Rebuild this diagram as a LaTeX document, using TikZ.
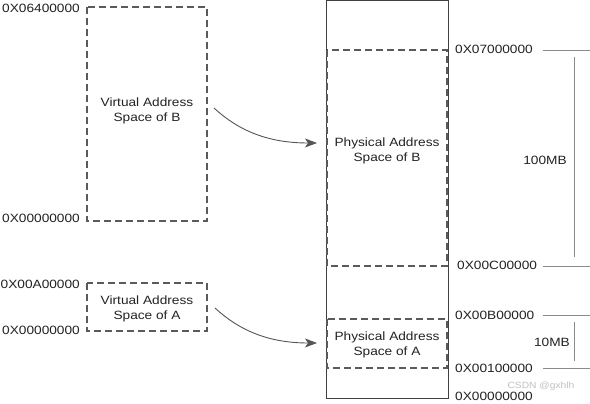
\documentclass[tikz,border=0pt]{standalone}
\usepackage{fontspec}
\setmainfont{Liberation Sans}[FakeStretch=1.14]
\usetikzlibrary{arrows.meta}
\definecolor{dashgray}{HTML}{5A5A5A}
\definecolor{boxgray}{HTML}{404040}
\definecolor{tickgray}{HTML}{8A8A8A}
\definecolor{txtgray}{HTML}{222222}
\definecolor{arrgray}{HTML}{555555}
\tikzset{
  dashbox/.style={draw=dashgray, line width=1.9pt, dash pattern=on 7pt off 4pt},
  membox/.style={draw=boxgray, line width=0.9pt},
  tickline/.style={draw=tickgray, line width=0.8pt},
  lbl/.style={text=txtgray, inner sep=0pt, font=\fontsize{12}{15.5}\selectfont},
  mid/.style={lbl, align=center},
  maparrow/.style={draw=arrgray, line width=0.9pt, -{Stealth[length=12pt,width=9pt,inset=3pt]}},
  wmark/.style={text=black!25, inner sep=0pt, font=\fontsize{9}{10}\selectfont}
}
\begin{document}
\begin{tikzpicture}[x=1pt,y=-1pt]
\useasboundingbox (0,0) rectangle (590,404);
% virtual B
\draw[dashbox] (87,7) rectangle (207,221);
\node[mid] (vb) at (147,111) {Virtual Address\\Space of B};
\node[lbl, anchor=east] (vbt) at (80,8) {0X06400000};
\node[lbl, anchor=east] (vbb) at (80,218) {0X00000000};
% virtual A
\draw[dashbox] (87,283) rectangle (207,331);
\node[mid] (va) at (147,309) {Virtual Address\\Space of A};
\node[lbl, anchor=east] (vat) at (80,284) {0X00A00000};
\node[lbl, anchor=east] (vab) at (80,330) {0X00000000};
% physical memory
\draw[membox] (326,0.5) rectangle (448,398);
\draw[dashbox] (327,50) rectangle (447,266);
\node[mid] (pb) at (387,151) {Physical Address\\Space of B};
\draw[dashbox] (327,319) rectangle (447,368);
\node[mid] (pa) at (387,345) {Physical Address\\Space of A};
% right labels
\node[lbl, anchor=west] (p1) at (455,49) {0X07000000};
\node[lbl, anchor=west] (p2) at (457,265) {0X00C00000};
\node[lbl, anchor=west] (p3) at (455,315) {0X00B00000};
\node[lbl, anchor=west] (p4) at (455,368) {0X00100000};
\node[lbl, anchor=west] (p5) at (455,396) {0X00000000};
% size ticks
\coordinate (t1a) at (543,50); \coordinate (t1b) at (590,50);
\coordinate (t2a) at (543,266); \coordinate (t2b) at (590,266);
\coordinate (t3a) at (543,315); \coordinate (t3b) at (590,315);
\coordinate (t4a) at (543,368); \coordinate (t4b) at (590,368);
\coordinate (v1a) at (574,57); \coordinate (v1b) at (574,257);
\coordinate (v2a) at (574,322); \coordinate (v2b) at (574,361);
\draw[tickline] (t1a) -- (t1b);
\draw[tickline] (t2a) -- (t2b);
\draw[tickline] (t3a) -- (t3b);
\draw[tickline] (t4a) -- (t4b);
\draw[tickline] (v1a) -- (v1b);
\draw[tickline] (v2a) -- (v2b);
\node[lbl] (s1) at (545,160) {100MB};
\node[lbl] (s2) at (552,342) {10MB};
% arrows
\coordinate (ab0) at (214,108); \coordinate (ab1) at (317,143);
\coordinate (aa0) at (215,308); \coordinate (aa1) at (317,343);
\draw[maparrow] (ab0) .. controls (240,132) and (270,143) .. (ab1);
\draw[maparrow] (aa0) .. controls (241,332) and (271,343) .. (aa1);
% watermark
\node[wmark] (wm) at (541,386) {CSDN @gxhlh};
\end{tikzpicture}
\end{document}
